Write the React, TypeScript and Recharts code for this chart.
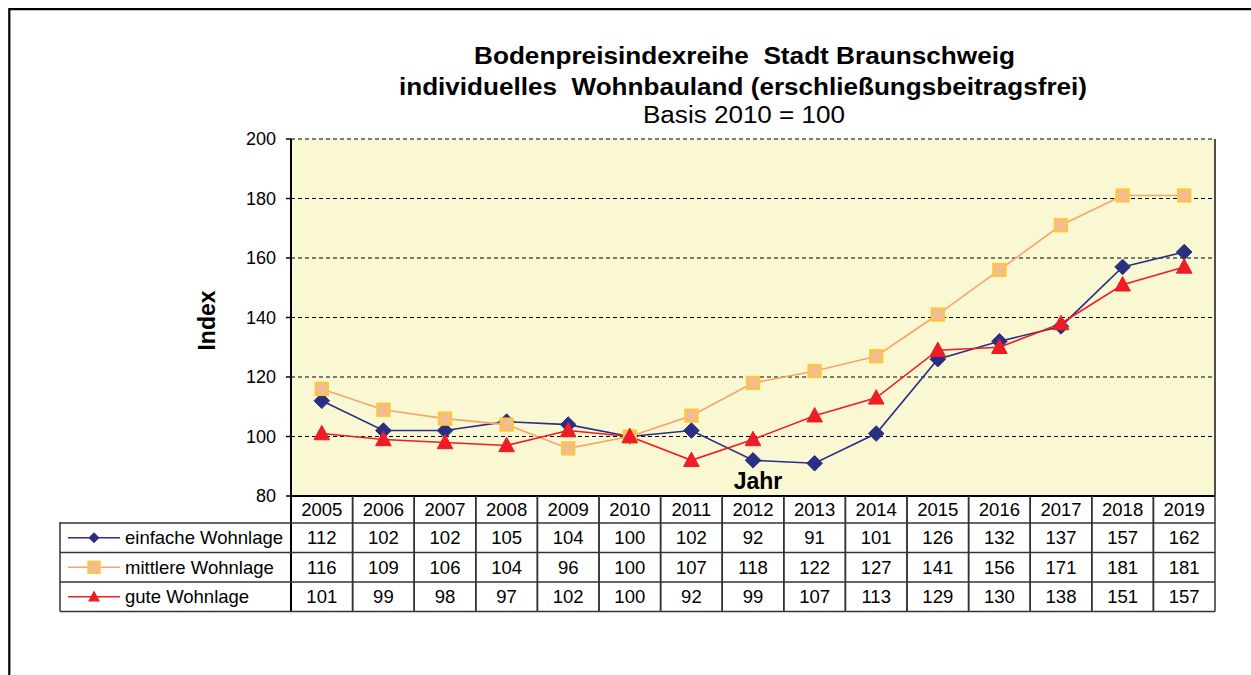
import React from 'react';
import { LineChart, Line, XAxis, YAxis, CartesianGrid, Legend } from 'recharts';

// ---------- data ----------
const years = ['2005', '2006', '2007', '2008', '2009', '2010', '2011', '2012', '2013', '2014', '2015', '2016', '2017', '2018', '2019'];
const einfacheWohnlage = [112, 102, 102, 105, 104, 100, 102, 92, 91, 101, 126, 132, 137, 157, 162];
const mittlereWohnlage = [116, 109, 106, 104, 96, 100, 107, 118, 122, 127, 141, 156, 171, 181, 181];
const guteWohnlage = [101, 99, 98, 97, 102, 100, 92, 99, 107, 113, 129, 130, 138, 151, 157];
const yTicks = [80, 100, 120, 140, 160, 180, 200];
const seriesNames = ['einfache Wohnlage', 'mittlere Wohnlage', 'gute Wohnlage'];
const titleLine1 = 'Bodenpreisindexreihe  Stadt Braunschweig';
const titleLine2 = 'individuelles  Wohnbauland (erschließungsbeitragsfrei)';
const titleLine3 = 'Basis 2010 = 100';
const yAxisLabel = 'Index';
const xAxisLabel = 'Jahr';

const seriesValues = [einfacheWohnlage, mittlereWohnlage, guteWohnlage];
const data = years.map((year, i) => ({
  year,
  einfache: einfacheWohnlage[i],
  mittlere: mittlereWohnlage[i],
  gute: guteWohnlage[i],
}));

// ---------- layout / style ----------
const W = 1251;
const H = 675;
const PLOT_LEFT = 291;
const PLOT_RIGHT = 1215;
const PLOT_TOP = 139;
const PLOT_BOTTOM = 496;
const Y_AXIS_W = 100;
const R_AXIS_W = 2;
const HEADER_H = 27;
const ROW_H = 29.5;
const FONT = "'Liberation Sans', Arial, Helvetica, sans-serif";
const TABLE_LINE = '#333333';

const NAVY = '#2B2F83';
const ORANGE_LINE = '#F7A46A';
const ORANGE_FILL = '#F3BC8E';
const ORANGE_EDGE = '#FFC82E';
const RED = '#EE1C24';
const PLOT_BG = '#FAF7D3';

// ---------- markers ----------
const diamondPts = (cx: number, cy: number, r: number) =>
  `${cx},${cy - r} ${cx + r},${cy} ${cx},${cy + r} ${cx - r},${cy}`;
const trianglePts = (cx: number, cy: number, s: number) =>
  `${cx},${cy - s * 1.05} ${cx + s},${cy + s * 0.8} ${cx - s},${cy + s * 0.8}`;

const DiamondDot = (p: any) => {
  if (p.cx == null || p.cy == null) return <g key={`d-${p.index}`} />;
  return <polygon key={`d-${p.index}`} points={diamondPts(p.cx, p.cy, 7.8)} fill={NAVY} stroke={NAVY} strokeWidth={1} />;
};
const SquareDot = (p: any) => {
  if (p.cx == null || p.cy == null) return <g key={`s-${p.index}`} />;
  return <rect key={`s-${p.index}`} x={p.cx - 6.3} y={p.cy - 6.3} width={12.6} height={12.6} fill={ORANGE_FILL} stroke={ORANGE_EDGE} strokeWidth={1.7} />;
};
const TriangleDot = (p: any) => {
  if (p.cx == null || p.cy == null) return <g key={`t-${p.index}`} />;
  return <polygon key={`t-${p.index}`} points={trianglePts(p.cx, p.cy, 7.8)} fill={RED} stroke={RED} strokeWidth={1} />;
};

const legendMarkers = [
  (cx: number, cy: number) => <polygon points={diamondPts(cx, cy, 5.5)} fill={NAVY} />,
  (cx: number, cy: number) => <rect x={cx - 6} y={cy - 6} width={12} height={12} fill={ORANGE_FILL} stroke={ORANGE_EDGE} strokeWidth={1.4} />,
  (cx: number, cy: number) => <polygon points={trianglePts(cx, cy, 6)} fill={RED} />,
];
const legendColors = [NAVY, ORANGE_LINE, RED];

// ---------- table tick (data table under the axis) ----------
const TableTick = (props: any) => {
  const { x, payload } = props;
  const idx = typeof payload.index === 'number' ? payload.index : years.indexOf(String(payload.value));
  const colW = (PLOT_RIGHT - PLOT_LEFT) / years.length;
  const l = x - colW / 2;
  const r = x + colW / 2;
  const bottom = PLOT_BOTTOM + HEADER_H + 3 * ROW_H;
  return (
    <g>
      <line x1={l} x2={l} y1={PLOT_BOTTOM} y2={bottom} stroke={idx === 0 ? '#000' : TABLE_LINE} strokeWidth={idx === 0 ? 2 : 1.5} />
      <line x1={r} x2={r} y1={PLOT_BOTTOM} y2={bottom} stroke={TABLE_LINE} strokeWidth={1.5} />
      {[0, 1, 2, 3].map((k) => (
        <line key={k} x1={l} x2={r} y1={PLOT_BOTTOM + HEADER_H + k * ROW_H} y2={PLOT_BOTTOM + HEADER_H + k * ROW_H} stroke={TABLE_LINE} strokeWidth={1.5} />
      ))}
      <text x={x} y={PLOT_BOTTOM + HEADER_H / 2 + 6.6} textAnchor="middle" fontSize={18.5} fill="#000" fontFamily={FONT}>
        {payload.value}
      </text>
      {seriesValues.map((vals, k) => (
        <text key={k} x={x} y={PLOT_BOTTOM + HEADER_H + k * ROW_H + ROW_H / 2 + 6.6} textAnchor="middle" fontSize={18.5} fill="#000" fontFamily={FONT}>
          {vals[idx]}
        </text>
      ))}
    </g>
  );
};

// ---------- legend as the left column of the table ----------
const LegendTable = () => {
  const w = PLOT_LEFT - 60;
  return (
    <svg width={w + 2} height={3 * ROW_H + 3} style={{ display: 'block', overflow: 'visible' }}>
      <line x1={1} x2={1} y1={0} y2={3 * ROW_H + 1} stroke={TABLE_LINE} strokeWidth={1.5} />
      {[0, 1, 2, 3].map((k) => (
        <line key={k} x1={1} x2={w + 1} y1={1 + k * ROW_H} y2={1 + k * ROW_H} stroke={TABLE_LINE} strokeWidth={1.5} />
      ))}
      {seriesNames.map((name, k) => {
        const cy = 1 + k * ROW_H + ROW_H / 2;
        return (
          <g key={name}>
            <line x1={9} x2={61} y1={cy} y2={cy} stroke={legendColors[k]} strokeWidth={1.5} />
            {legendMarkers[k](35, cy)}
            <text x={66} y={cy + 6.6} fontSize={18.5} fill="#000" fontFamily={FONT}>{name}</text>
          </g>
        );
      })}
    </svg>
  );
};

const IndexLabel = (p: any) => {
  const vb = p.viewBox || { x: PLOT_LEFT - Y_AXIS_W, y: PLOT_TOP, width: Y_AXIS_W, height: PLOT_BOTTOM - PLOT_TOP };
  const cx = vb.x + 16;
  const cy = vb.y + vb.height / 2 + 3;
  return (
    <text x={cx} y={cy} transform={`rotate(-90 ${cx} ${cy})`} textAnchor="middle" dominantBaseline="central" fontWeight="bold" fontSize={23} fill="#000" fontFamily={FONT}>
      {yAxisLabel}
    </text>
  );
};

const JahrLabel = (p: any) => {
  const vb = p.viewBox || { x: PLOT_LEFT, y: PLOT_BOTTOM, width: PLOT_RIGHT - PLOT_LEFT, height: 0 };
  return (
    <text x={vb.x + vb.width / 2 + 5} y={vb.y - 7} textAnchor="middle" fontWeight="bold" fontSize={23} fill="#000" fontFamily={FONT}>
      {xAxisLabel}
    </text>
  );
};

export default function App() {
  return (
    <div style={{ position: 'absolute', left: 0, top: 0, width: W, height: H, overflow: 'hidden', background: '#fff', fontFamily: FONT }}>
      <div style={{ position: 'absolute', left: 0, top: 0 }}>
        <LineChart
          width={W}
          height={H}
          data={data}
          margin={{ top: PLOT_TOP, right: W - PLOT_RIGHT - R_AXIS_W, bottom: 0, left: PLOT_LEFT - Y_AXIS_W }}
        >
          <CartesianGrid vertical={false} stroke="#000" strokeDasharray="4 3" strokeWidth={1.2} fill={PLOT_BG} fillOpacity={1} />
          <XAxis
            dataKey="year"
            scale="band"
            height={H - PLOT_BOTTOM}
            interval={0}
            tickLine={false}
            axisLine={{ stroke: '#000', strokeWidth: 2 }}
            tick={<TableTick />}
            label={{ content: JahrLabel }}
          />
          <YAxis
            domain={[80, 200]}
            ticks={yTicks}
            interval={0}
            width={Y_AXIS_W}
            tickSize={5}
            tickMargin={10}
            axisLine={{ stroke: '#000', strokeWidth: 2 }}
            tickLine={{ stroke: '#000', strokeWidth: 1.5 }}
            tick={{ fill: '#000', fontSize: 18, fontFamily: FONT }}
            label={{ content: IndexLabel }}
          />
          <YAxis
            yAxisId="right"
            orientation="right"
            domain={[80, 200]}
            ticks={yTicks}
            width={R_AXIS_W}
            tick={false}
            tickLine={false}
            axisLine={{ stroke: '#3a3a3a', strokeWidth: 1.8 }}
          />
          <Legend
            layout="horizontal"
            verticalAlign="middle"
            align="center"
            content={<LegendTable />}
            wrapperStyle={{ position: 'absolute', left: 59, top: PLOT_BOTTOM + HEADER_H - 1, width: PLOT_LEFT - 58, height: 3 * ROW_H + 3, bottom: 'auto', right: 'auto' }}
          />
          <Line dataKey="einfache" name={seriesNames[0]} stroke={NAVY} strokeWidth={1.6} dot={DiamondDot} isAnimationActive={false} />
          <Line dataKey="mittlere" name={seriesNames[1]} stroke={ORANGE_LINE} strokeWidth={1.6} dot={SquareDot} isAnimationActive={false} />
          <Line dataKey="gute" name={seriesNames[2]} stroke={RED} strokeWidth={1.6} dot={TriangleDot} isAnimationActive={false} />
        </LineChart>
      </div>
      <svg width={W} height={H} style={{ position: 'absolute', left: 0, top: 0, pointerEvents: 'none' }}>
        <path d={`M9.3,${H} L9.3,9.2 L${W},9.2`} fill="none" stroke="#000" strokeWidth={2.2} />
        <text x={474} y={64} fontWeight="bold" fontSize={23} fill="#000" fontFamily={FONT} textLength={541} lengthAdjust="spacingAndGlyphs" style={{ whiteSpace: 'pre' }}>
          {titleLine1}
        </text>
        <text x={399} y={95} fontWeight="bold" fontSize={23} fill="#000" fontFamily={FONT} textLength={688} lengthAdjust="spacingAndGlyphs" style={{ whiteSpace: 'pre' }}>
          {titleLine2}
        </text>
        <text x={643} y={123} fontSize={23} fill="#000" fontFamily={FONT} textLength={202} lengthAdjust="spacingAndGlyphs">
          {titleLine3}
        </text>
      </svg>
    </div>
  );
}
